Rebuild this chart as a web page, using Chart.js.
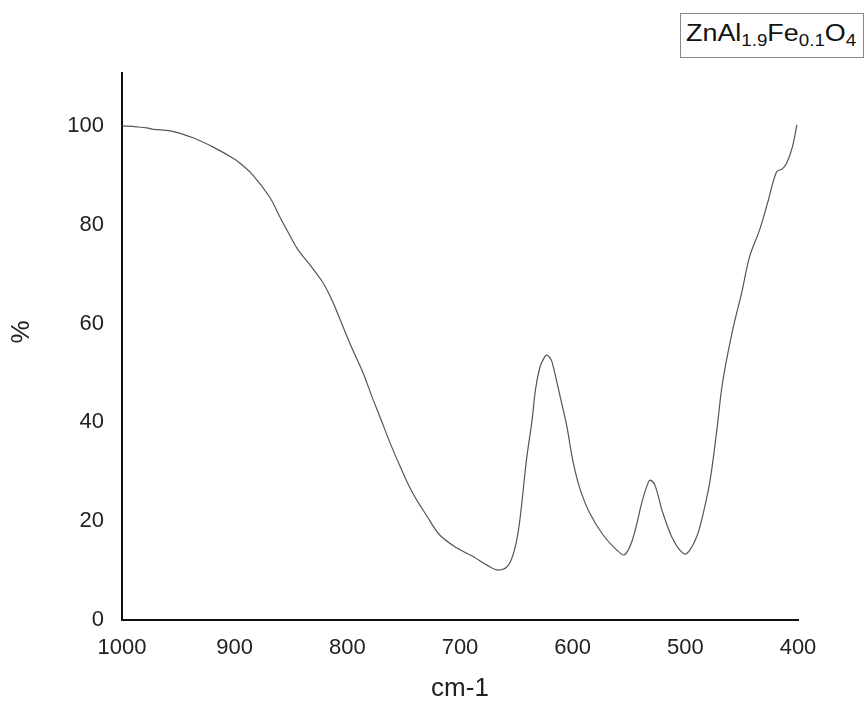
<!DOCTYPE html>
<html>
<head>
<meta charset="utf-8">
<script src="https://cdn.jsdelivr.net/npm/chart.js@4.4.1/dist/chart.umd.min.js"></script>
<style>
	body { margin: 0; background: #fff; }
	#wrap { position: relative; width: 865px; height: 702px; }
	#label {
		position: absolute; left: 680px; top: 13px; width: 182px; height: 43px;
		border: 1px solid #888; background: #fff;
		font-family: "Liberation Sans", Arial, sans-serif; color: #111;
	}
	#label .txt {
		position: absolute; left: 5px; top: 6px; font-size: 23px; line-height: 26px;
		white-space: nowrap; transform: scaleX(1.17); transform-origin: left center;
	}
	#label sub { font-size: 16px; vertical-align: -5px; line-height: 0; }
</style>
</head>
<body>
<div id="wrap">
	<canvas id="chart" width="865" height="702"></canvas>
	<div id="label"><span class="txt">ZnAl<sub>1.9</sub>Fe<sub>0.1</sub>O<sub>4</sub></span></div>
</div>
<script>
// wavenumber (cm-1) and transmittance (%)
var wavenumbers = [1000, 987, 978, 972, 957, 937, 919, 901, 895, 884, 869, 860, 851, 844, 833, 822, 813,
	798, 786, 778, 771, 762, 753, 742, 729, 718, 703, 688, 676, 666, 657, 651, 647, 641, 636, 633, 629,
	625, 623, 620, 618, 611, 605, 600, 594, 585, 573, 561, 554, 547, 538, 533, 531, 527, 520, 512, 505,
	499, 490, 484, 478, 472, 467, 458, 450, 443, 434, 427, 419, 414, 410, 405, 401];
var transmittance = [100, 99.8, 99.6, 99.3, 99.0, 97.6, 95.7, 93.4, 92.4, 90.1, 85.6, 81.6, 77.8, 75.0, 71.8, 68.4, 64.4,
	56.1, 50.0, 45.1, 41.1, 35.8, 31.0, 25.7, 20.9, 17.2, 14.6, 12.8, 11.1, 10.1, 11.1, 14.8, 20.0, 32.4, 40.5, 46.6, 51.2,
	53.2, 53.6, 53.0, 52.0, 45.1, 39.0, 32.4, 26.9, 21.7, 17.2, 14.2, 13.2, 16.2, 24.3, 27.8, 28.3, 27.3, 21.7, 16.8, 14.2,
	13.4, 16.8, 21.7, 28.3, 38.5, 48.0, 58.7, 66.2, 73.5, 79.0, 84.4, 90.7, 91.3, 92.5, 95.7, 100.2];
var xTicks = [1000, 900, 800, 700, 600, 500, 400];
var yTicks = [0, 20, 40, 60, 80, 100];

var points = wavenumbers.map(function(w, i) {
	return { x: w, y: transmittance[i] };
});

var tickFont = { family: "'Liberation Sans', Arial, sans-serif", size: 22 };
var titleFont = { family: "'Liberation Sans', Arial, sans-serif", size: 26, lineHeight: 1 };

new Chart(document.getElementById('chart'), {
	type: 'line',
	data: {
		datasets: [{
			data: points,
			borderColor: '#555',
			borderWidth: 1.2,
			pointRadius: 0,
			tension: 0.35,
			fill: false
		}]
	},
	options: {
		responsive: false,
		animation: false,
		layout: { padding: { top: 73, right: 67, left: 0, bottom: 0 } },
		plugins: { legend: { display: false }, tooltip: { enabled: false } },
		scales: {
			x: {
				type: 'linear',
				reverse: true,
				min: 400,
				max: 1000,
				grid: { display: false, drawTicks: false },
				border: { display: true, color: '#111', width: 2 },
				afterBuildTicks: function(axis) {
					axis.ticks = xTicks.map(function(v) { return { value: v }; });
				},
				afterFit: function(axis) { axis.height = 82; },
				ticks: {
					font: tickFont, color: '#222', padding: 15, maxRotation: 0,
					callback: function(v) { return String(v); }
				},
				title: { display: true, text: 'cm-1', font: titleFont, color: '#222', padding: { top: 0, bottom: 0 } }
			},
			y: {
				min: 0,
				max: 110.7,
				grid: { display: false, drawTicks: false },
				border: { display: true, color: '#111', width: 2 },
				afterBuildTicks: function(axis) {
					axis.ticks = yTicks.map(function(v) { return { value: v }; });
				},
				afterFit: function(axis) { axis.width = 122; },
				ticks: {
					font: tickFont, color: '#222', padding: 18,
					callback: function(v) { return String(v); }
				},
				// leading spaces nudge the rotated % up a little, as in the original
				title: { display: true, text: '\u00a0\u00a0\u00a0\u00a0%', font: titleFont, color: '#222', padding: { top: 9, bottom: 0 } }
			}
		}
	}
});
</script>
</body>
</html>
